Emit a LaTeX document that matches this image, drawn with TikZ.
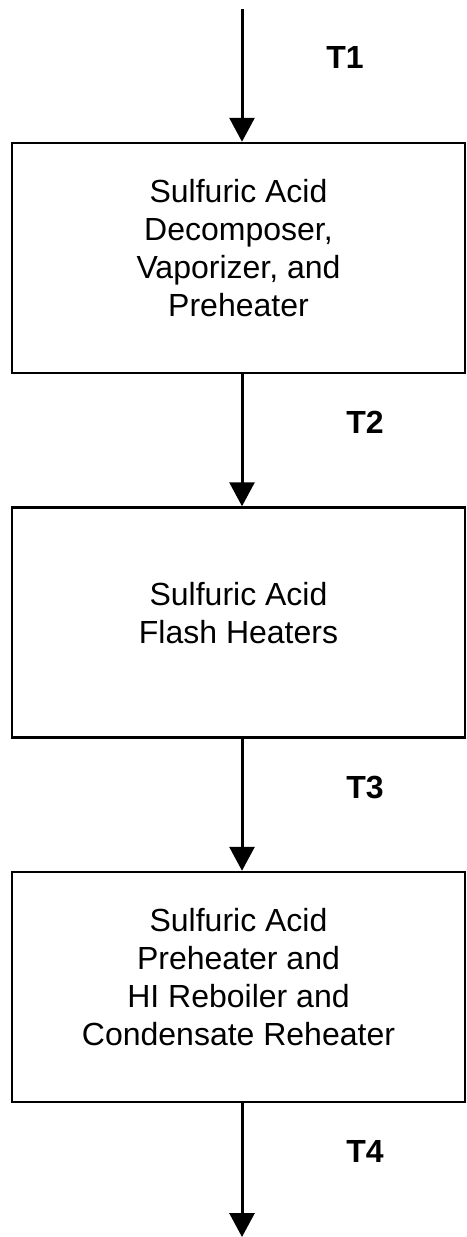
\documentclass[tikz,border=0pt]{standalone}
\usepackage{fontspec}
\setmainfont{Liberation Sans}
\usetikzlibrary{arrows.meta}
\tikzset{
  unit/.style={draw, line width=2.5pt, minimum width=453pt, minimum height=230pt,
    align=center, text depth=20pt, font=\fontsize{32}{38}\selectfont},
  flow/.style={line width=3pt, -{Triangle[width=25pt,length=24pt]}},
  temp/.style={font=\fontsize{32}{38}\selectfont\bfseries},
}
\begin{document}
\begin{tikzpicture}[x=1pt,y=-1pt]
\useasboundingbox (0,0) rectangle (466,1237);
\node[unit] (dec) at (238.5,258) {Sulfuric Acid\\Decomposer,\\Vaporizer, and\\Preheater};
\node[unit] (flash) at (238.5,622.5) {Sulfuric Acid\\Flash Heaters};
\node[unit] (reb) at (238.5,987) {Sulfuric Acid\\Preheater and\\HI Reboiler and\\Condensate Reheater};
\coordinate (feed) at (242,9);
\coordinate (drain) at (242,1237);
\draw[flow] (feed) -- (dec.north -| feed);
\draw[flow] (dec.south -| feed) -- (flash.north -| feed);
\draw[flow] (flash.south -| feed) -- (reb.north -| feed);
\draw[flow] (reb.south -| feed) -- (drain);
\node[temp] (t1) at (345,57) {T1};
\node[temp] (t2) at (365,422) {T2};
\node[temp] (t3) at (365,787) {T3};
\node[temp] (t4) at (365,1151) {T4};
\end{tikzpicture}
\end{document}
